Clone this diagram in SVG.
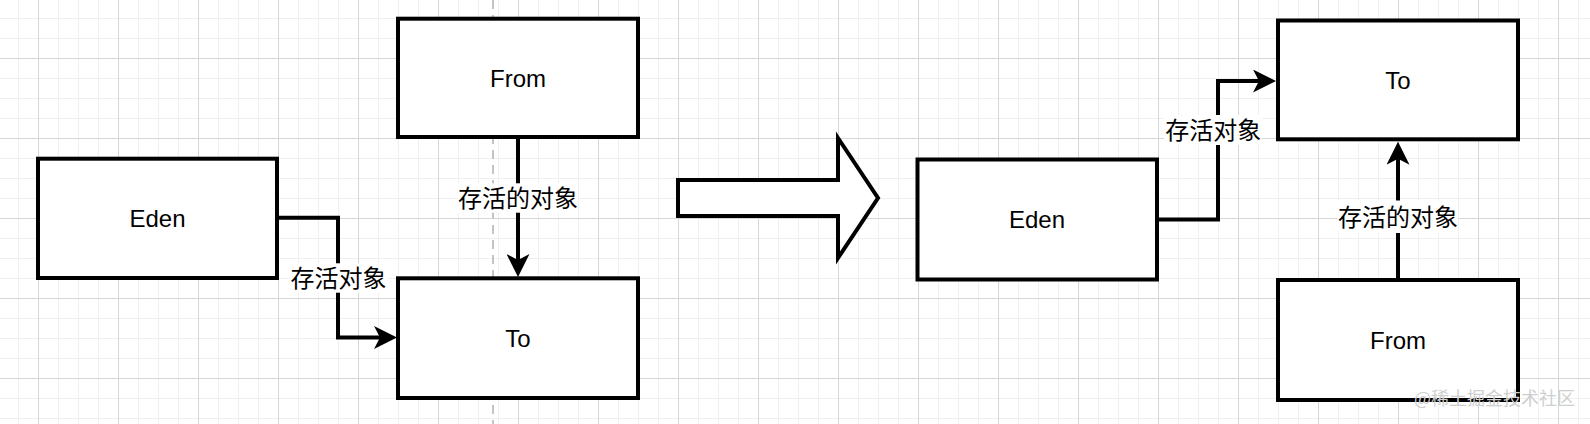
<svg xmlns="http://www.w3.org/2000/svg" width="1590" height="424" viewBox="0 0 1590 424">
<defs>
<pattern id="minor" patternUnits="userSpaceOnUse" x="18" y="18" width="20" height="20"><path d="M0.5 0V20M0 0.5H20" stroke="#f0f0f0" stroke-width="1" fill="none"/></pattern>
<pattern id="major" patternUnits="userSpaceOnUse" x="38" y="58" width="80" height="80"><path d="M0.5 0V80M0 0.5H80" stroke="#d6d6d6" stroke-width="1" fill="none"/></pattern>
<marker id="arr" viewBox="0 0 23 23" refX="6" refY="11.5" markerWidth="23" markerHeight="23" markerUnits="userSpaceOnUse" orient="auto"><path d="M23 11.5L0 0L6 11.5L0 23Z" fill="#000"/></marker>
<style>
.box{fill:#fff;stroke:#000;stroke-width:4}
.edge{fill:none;stroke:#000;stroke-width:4;stroke-linejoin:miter;marker-end:url(#arr)}
.t{font-family:"Liberation Sans","Noto Sans CJK SC",sans-serif;font-size:24px;fill:#000;text-anchor:middle}
.lbg{fill:#fff}
.wm{font-family:"Noto Sans CJK SC",sans-serif;font-size:18px;fill:#cfcfcf;text-anchor:end}
</style>
</defs>
<rect width="1590" height="424" fill="#fff"/>
<rect width="1590" height="424" fill="url(#minor)"/>
<rect width="1590" height="424" fill="url(#major)"/>
<line x1="493" y1="0" x2="493" y2="424" stroke="#c4c4c4" stroke-width="2" stroke-dasharray="9 6"/>

<g id="connectors">
<path class="edge" d="M277 217.7H338V337.5H380"/>
<path class="edge" d="M518 137V260"/>
<path class="edge" d="M1157 219.5H1218V81H1259"/>
<path class="edge" d="M1398 280V158.7"/>
<rect class="lbg" x="289.5" y="263.3" width="98" height="29.4"/>
<text class="t" x="338.5" y="287">存活对象</text>
<rect class="lbg" x="458" y="183.3" width="120" height="29.4"/>
<text class="t" x="518" y="207">存活的对象</text>
<rect class="lbg" x="1164" y="115" width="98" height="30"/>
<text class="t" x="1213.3" y="139">存活对象</text>
<rect class="lbg" x="1338" y="200.5" width="120" height="32.5"/>
<text class="t" x="1398" y="225.7">存活的对象</text>
</g>

<g id="eden-left"><rect class="box" x="38" y="158.7" width="239" height="119.3"/><text class="t" x="157.5" y="227">Eden</text></g>
<g id="from-left"><rect class="box" x="398" y="18.7" width="240" height="118.3"/><text class="t" x="518" y="86.5">From</text></g>
<g id="to-left"><rect class="box" x="398" y="278.3" width="240" height="119.7"/><text class="t" x="518" y="346.6">To</text></g>

<g id="big-arrow"><path class="box" d="M678 180H838V138L878 198L838 258V216H678Z"/></g>

<g id="eden-right"><rect class="box" x="917.5" y="159.5" width="239.5" height="120"/><text class="t" x="1037" y="228">Eden</text></g>
<g id="to-right"><rect class="box" x="1278" y="20.5" width="240" height="118.8"/><text class="t" x="1398" y="88.6">To</text></g>
<g id="from-right"><rect class="box" x="1278" y="280" width="240" height="120"/><text class="t" x="1398" y="348.6">From</text></g>

<text class="wm" x="1575" y="405">@稀土掘金技术社区</text>
</svg>
